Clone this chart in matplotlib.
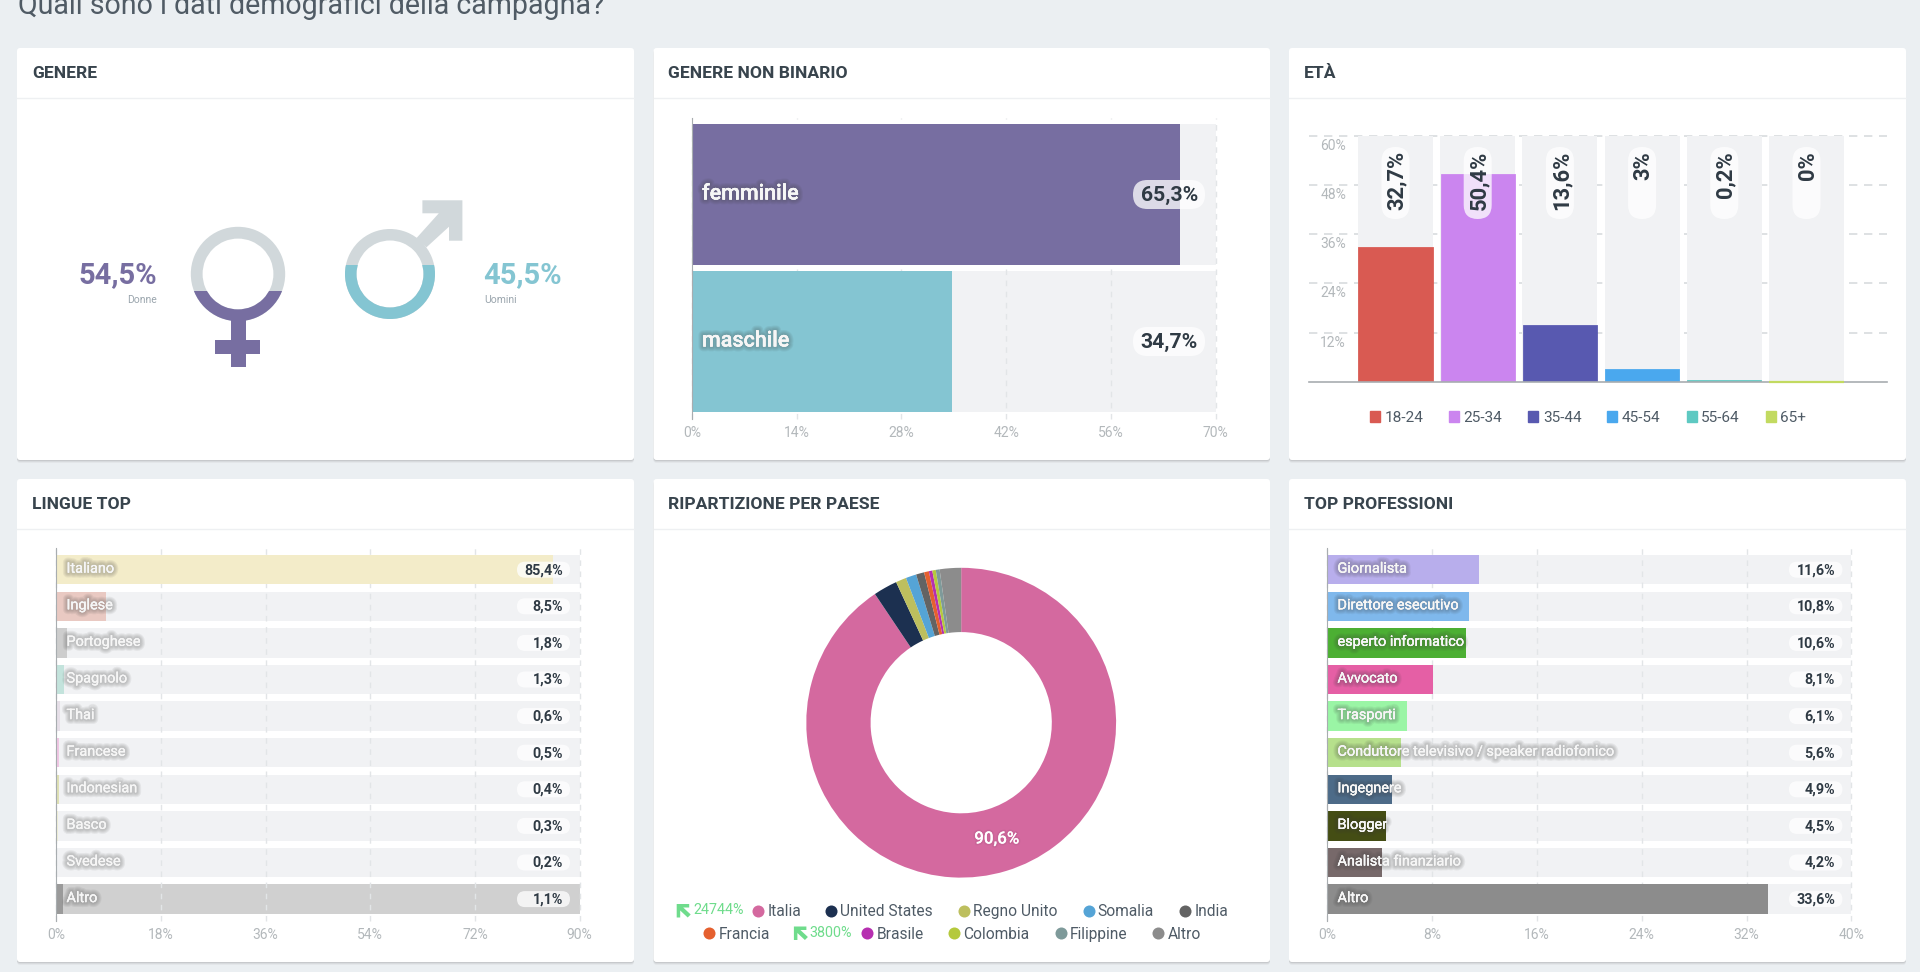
import numpy as np
import matplotlib
matplotlib.use("Agg")
import matplotlib.pyplot as plt
import matplotlib.patheffects as pe
from matplotlib.patches import FancyBboxPatch, Rectangle, Wedge, Polygon, Patch

plt.rcParams['font.family'] = ['Roboto', 'DejaVu Sans']

# data
gender_shares = [54.5, 45.5]
gender_labels = ["Donne", "Uomini"]

nonbinary_cats = ["femminile", "maschile"]
nonbinary_vals = [65.3, 34.7]
nonbinary_colors = ["#776ea1", "#84c5d2"]

age_cats = ["18-24", "25-34", "35-44", "45-54", "55-64", "65+"]
age_vals = [32.7, 50.4, 13.6, 3, 0.2, 0]
age_colors = ["#d95a52", "#cb85ef", "#5859b0", "#4aa8ee", "#5ec9c2", "#c2da60"]

lang_cats = ["Italiano", "Inglese", "Portoghese", "Spagnolo", "Thai", "Francese",
             "Indonesian", "Basco", "Svedese", "Altro"]
lang_vals = [85.4, 8.5, 1.8, 1.3, 0.6, 0.5, 0.4, 0.3, 0.2, 1.1]
lang_colors = ["#f3ecc9", "#e9c9c2", "#cdcdcd", "#c3e3dc", "#e6dfe8", "#efc6e3",
               "#dfe0b4", "#f0f0d8", "#dcdcdc", "#9a9a9a"]

country_cats = ["Italia", "United States", "Regno Unito", "Somalia", "India", "Francia",
                "Brasile", "Colombia", "Filippine", "Altro"]
country_vals = [90.6, 2.5, 1.1, 1.1, 0.85, 0.5, 0.36, 0.36, 0.4, 2.23]
country_colors = ["#d4699f", "#1c3050", "#bdbf5e", "#55a4d6", "#636363", "#e5602f",
                  "#b62fb0", "#b5c93c", "#7e9a9a", "#8c8c8c"]

job_cats = ["Giornalista", "Direttore esecutivo", "esperto informatico", "Avvocato", "Trasporti",
            "Conduttore televisivo / speaker radiofonico", "Ingegnere", "Blogger",
            "Analista finanziario", "Altro"]
job_vals = [11.6, 10.8, 10.6, 8.1, 6.1, 5.6, 4.9, 4.5, 4.2, 33.6]
job_colors = ["#b8aeec", "#7fb8ec", "#4caf33", "#e55fa5", "#9af5a5", "#b6e08c",
              "#4d6b88", "#444d14", "#77696a", "#8c8c8c"]

W, H = 1920, 972
TRACK = "#f1f2f4"
GRID = "#e2e5e7"
TICK = "#b3b8bb"
DARK = "#2f3a44"
LEGEND = "#4f5b66"
PURPLE = "#776ea1"
TEAL = "#84c5d2"
ICON = "#d1d8db"
GREEN = "#6fdc8c"

fig = plt.figure(figsize=(W / 100, H / 100), dpi=100, facecolor="#ebeff2")


def px_axes(x0, y0, x1, y1, z=1):
    ax = fig.add_axes([x0 / W, 1 - y1 / H, (x1 - x0) / W, (y1 - y0) / H], zorder=z)
    ax.patch.set_alpha(0)
    return ax


def pct(v):
    return f"{v:g}".replace(".", ",") + "%"


def pill(x0, y0, x1, y1):
    r = min(x1 - x0, y1 - y0) / 2
    top.add_patch(FancyBboxPatch((x0 + r, y0 + r), x1 - x0 - 2 * r, y1 - y0 - 2 * r,
                                 boxstyle=f"round,pad={r},rounding_size={r}",
                                 fc="white", ec="none", alpha=0.75, zorder=3))


def shadow_text(*args, **kw):
    t = top.text(*args, color="#f6f6f6", zorder=5, **kw)
    t.set_path_effects([pe.withStroke(linewidth=w, foreground="#3c3c3c", alpha=0.07) for w in (7, 5.5, 4, 2.5)]
                       + [pe.Normal()])


back = px_axes(0, 0, W, H, 0)
back.set_xlim(0, W)
back.set_ylim(H, 0)
back.axis("off")

top = px_axes(0, 0, W, H, 3)
top.set_xlim(0, W)
top.set_ylim(H, 0)
top.axis("off")

# the reference crops this heading at the top edge as well
back.text(18, 13.5, "Quali sono i dati demografici della campagna?", fontsize=20.6, fontweight="normal",
          color="#505b65", va="baseline", ha="left")

card_x = [(17, 634), (653.5, 1270), (1289, 1906)]
card_y = [(48, 460, 98), (479, 962, 529)]
card_titles = [["GENERE", "GENERE NON BINARIO", "ETÀ"],
               ["LINGUE TOP", "RIPARTIZIONE PER PAESE", "TOP PROFESSIONI"]]
for (y0, y1, yh), titles in zip(card_y, card_titles):
    for (x0, x1), title in zip(card_x, titles):
        for off, a in [(3, 0.06), (2, 0.09), (1, 0.14)]:
            back.add_patch(FancyBboxPatch((x0 + 3, y0 + 3 + off), x1 - x0 - 6, y1 - y0 - 6,
                                          boxstyle="round,pad=3,rounding_size=3",
                                          fc="#666666", ec="none", alpha=a))
        back.add_patch(FancyBboxPatch((x0 + 3, y0 + 3), x1 - x0 - 6, y1 - y0 - 6, boxstyle="round,pad=3,rounding_size=3",
                                      fc="white", ec="none"))
        back.plot([x0, x1], [yh, yh], color="#eef0f2", lw=1)
        back.text(x0 + 15, (y0 + yh) / 2 + 0.5, title, fontsize=12.6, fontweight="bold", color="#38444d",
                  va="center", ha="left")

# gender icons, filled from the bottom up to the share
female_parts = lambda: [Wedge((238, 274), 47.2, 0, 360, width=11.8),
                        Rectangle((230.6, 318), 15.1, 48.7), Rectangle((215, 340), 45.4, 14)]
male_parts = lambda: [Wedge((390, 274), 45, 0, 360, width=11.5),
                      Polygon([(422.4, 200.3), (462.4, 200.3), (462.4, 240.7), (449, 240.7), (449, 226.7),
                               (426.5, 247.3), (416.3, 238.3), (438.8, 213.3), (422.4, 213.3)])]
icons = [(female_parts, 227, 366.7, PURPLE, gender_shares[0]), (male_parts, 200.3, 319, TEAL, gender_shares[1])]
for parts, ytop, ybot, color, share in icons:
    for p in parts():
        p.set(fc=ICON, ec="none")
        back.add_patch(p)
    level = ybot - (ybot - ytop) * share / 100
    clip = Rectangle((0, level), 640, ybot - level + 1, transform=back.transData)
    for p in parts():
        p.set(fc=color, ec="none", zorder=2)
        back.add_patch(p)
        p.set_clip_path(clip)

back.text(157, 275, pct(gender_shares[0]), color=PURPLE, fontsize=21, fontweight="bold", ha="right", va="center")
back.text(157, 300, gender_labels[0], color="#9aa5ad", fontsize=7.5, ha="right", va="center")
back.text(483, 275, pct(gender_shares[1]), color=TEAL, fontsize=21, fontweight="bold", ha="left", va="center")
back.text(484, 300, gender_labels[1], color="#9aa5ad", fontsize=7.5, ha="left", va="center")


def hbars(box, cats, vals, colors, xmax, c0, step, frac, pill_x, pill_h, text_right, name_size, val_size, name_x,
          name_weight="medium", altro_bg=None):
    ax = px_axes(*box)
    y = np.arange(len(cats))
    track = [TRACK] * len(cats)
    if altro_bg:
        track[-1] = altro_bg
    ax.barh(y, [xmax] * len(cats), height=frac, color=track, zorder=1)
    ax.barh(y, vals, height=frac, color=colors, zorder=2)
    ax.set_xlim(0, xmax)
    ax.set_ylim((box[3] - c0) / step, (box[1] - c0) / step)
    ticks = np.linspace(0, xmax, 6)
    ax.set_xticks(ticks)
    ax.set_xticklabels([f"{t:g}%" for t in ticks], color=TICK, fontsize=10)
    ax.set_yticks([])
    ax.tick_params(axis="x", length=0, pad=5)
    ax.set_axisbelow("line")
    ax.grid(axis="x", color=GRID, lw=1, linestyle=(0, (4, 4)))
    for line in ax.get_xgridlines():
        line.set_clip_on(False)
    for s in ["top", "right", "bottom"]:
        ax.spines[s].set_visible(False)
    ax.spines["left"].set_color("#a8adb0")
    for i, (cat, v) in enumerate(zip(cats, vals)):
        yc = c0 + step * i
        pill(pill_x[0], yc - pill_h / 2, pill_x[1], yc + pill_h / 2)
        top.text(text_right, yc + 0.5, pct(v), color=DARK, fontsize=val_size, fontweight="bold",
                 ha="right", va="center", zorder=4)
        shadow_text(name_x, yc - 0.5 if name_size > 12 else yc - 1, cat, fontsize=name_size, fontweight=name_weight,
                    ha="left", va="center")
    return ax


hbars((692, 118, 1215.5, 419), nonbinary_cats, nonbinary_vals, nonbinary_colors, 70, 194.5, 147, 0.959,
      (1133, 1205), 29, 1198, 15.5, 15.3, 702)
hbars((56.3, 548.3, 579.6, 920.7), lang_cats, lang_vals, lang_colors, 90, 569.7, 36.6, 0.8,
      (517, 570), 16, 563, 10.4, 10.3, 66.5, name_weight="normal", altro_bg="#d0d0d0")
hbars((1327.3, 548.3, 1851.4, 920.7), job_cats, job_vals, job_colors, 40, 569.7, 36.6, 0.8,
      (1789, 1842.4), 16, 1835, 10.4, 10.3, 1337.5, name_weight="normal")

# age columns
age_ax = px_axes(1308.6, 135.7, 1887, 382)
xs = np.arange(len(age_cats))
age_ax.bar(xs, [60] * len(xs), width=0.912, color=TRACK, zorder=1)
age_ax.bar(xs, age_vals, width=0.878, color=age_colors, edgecolor=age_colors, lw=2, zorder=2)
# a zero height bar loses its edge, so the sliver at the baseline is drawn as a line above the spine
age_ax.hlines(age_vals[-1], xs[-1] - 0.456, xs[-1] + 0.456, color=age_colors[-1], lw=1.6, zorder=3, clip_on=False)
age_ax.set_xlim((1308.6 - 1395.5) / 82.2, (1887 - 1395.5) / 82.2)
age_ax.set_ylim(0, 60)
age_ax.set_xticks([])
age_ticks = [12, 24, 36, 48, 60]
age_ax.set_yticks(age_ticks)
age_ax.set_yticklabels([])
age_ax.tick_params(axis="y", length=0)
age_ax.set_axisbelow(True)
age_ax.grid(axis="y", color="#d8dbde", lw=1.2, linestyle=(0, (5, 4)))
for line in age_ax.get_ygridlines():
    line.set_clip_on(False)
for s in ["top", "right", "left"]:
    age_ax.spines[s].set_visible(False)
age_ax.spines["bottom"].set_color("#a8adb0")
age_ax.spines["bottom"].set_linewidth(1.2)
for t in age_ticks:
    age_ax.annotate(f"{t}%", xy=(0.0647, t), xycoords=age_ax.get_yaxis_transform(), xytext=(0, -10),
                    textcoords="offset pixels", color=TICK, fontsize=10, ha="right", va="center", zorder=3)
for x, v in zip(xs, age_vals):
    xc = 1395.5 + 82.2 * x
    pill(xc - 14, 147, xc + 14, 219)
    top.text(xc + 1.5, 151, pct(v), rotation=90, color=DARK, fontsize=15.8, fontweight="bold", ha="center", va="top", zorder=4)
age_handles = [Patch(color=c, label=a) for c, a in zip(age_colors, age_cats)]
age_ax.legend(handles=age_handles, ncol=6, frameon=False, loc="center", bbox_to_anchor=(1588, 418),
              bbox_transform=top.transData, fontsize=11.1, labelcolor=LEGEND, handlelength=0.65, handleheight=0.65,
              handletextpad=0.3, columnspacing=1.68, borderpad=0)

# country donut
donut_ax = px_axes(961.2 - 158, 722.7 - 158, 961.2 + 158, 722.7 + 158)
donut_ax.pie(country_vals, colors=country_colors, startangle=90, counterclock=False, radius=1,
             wedgeprops=dict(width=0.415, edgecolor="none"))
donut_ax.set_xlim(-1.02, 1.02)
donut_ax.set_ylim(-1.02, 1.02)
mid = np.deg2rad(country_vals[0] / 100 * 360 / 2)
donut_ax.text(np.sin(mid) * 0.79, np.cos(mid) * 0.785, pct(country_vals[0]), color="white", fontsize=12.2,
              fontweight="medium", ha="center", va="center",
              path_effects=[pe.withStroke(linewidth=2.5, foreground="#8c4a6c", alpha=0.15), pe.Normal()])

dot_x = [758.4, 831, 963.7, 1088.6, 1185.3, 709.4, 867.3, 954.3, 1060.8, 1158.4]
dot_y = [910.7] * 5 + [933] * 5
for x, y, c, name in zip(dot_x, dot_y, country_colors, country_cats):
    top.scatter([x], [y], s=75, color=c, lw=0, zorder=4)
    top.text(x + 9, y + 1.2, name, color=LEGEND, fontsize=11.2, ha="left", va="center", zorder=4)


def up_arrow(x, y):
    pts = [(0, 0), (12.5, 0), (12.5, 3.5), (6.5, 3.5), (14, 10.5), (11, 13.5), (3.5, 6.5), (3.5, 13.5), (0, 13.5)]
    top.add_patch(Polygon([(x + a, y + b) for a, b in pts], fc=GREEN, ec="none", zorder=4))


up_arrow(676.7, 904)
top.text(693, 910, "24744%", color=GREEN, fontsize=10.4, ha="left", va="center", zorder=4)
up_arrow(793.9, 926.5)
top.text(809.8, 932.5, "3800%", color=GREEN, fontsize=10.4, ha="left", va="center", zorder=4)

fig.savefig("out.png", dpi=100, facecolor=fig.get_facecolor())
